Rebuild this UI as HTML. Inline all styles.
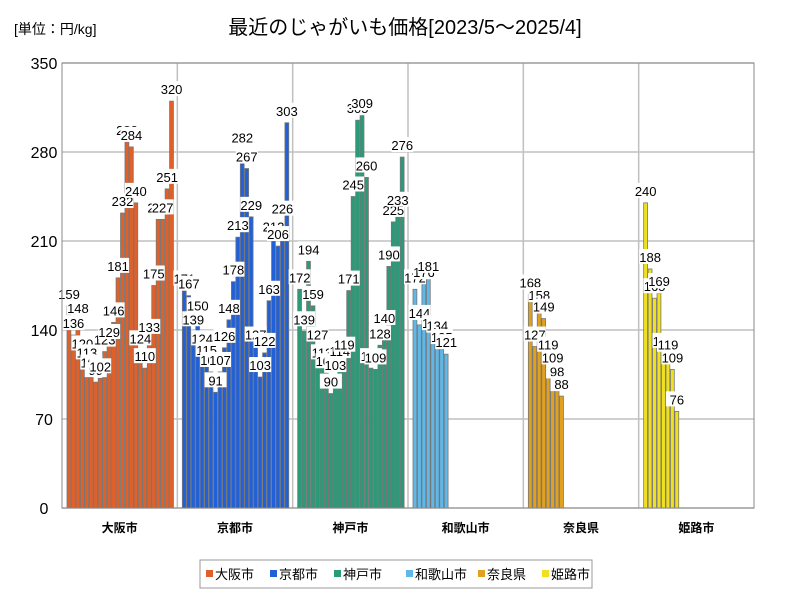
<!DOCTYPE html>
<html><head><meta charset="utf-8"><style>
body{margin:0;background:#fff;font-family:"Liberation Sans","Noto Sans CJK JP",sans-serif}
</style></head><body>
<svg width="800" height="600" xmlns="http://www.w3.org/2000/svg" style="font-family:'Liberation Sans','Noto Sans CJK JP',sans-serif">
<text x="14" y="34" font-size="14">[単位：円/kg]</text>
<text x="405" y="34" font-size="20" text-anchor="middle">最近のじゃがいも価格[2023/5～2025/4]</text>
<g id="grid"></g><g id="bars"></g><g id="labels"></g><g id="axes"></g>
<rect x="200" y="560" width="392" height="28" fill="#fff" stroke="#999"/>
<g id="legend"></g>
</svg>
<script>
const cities=["大阪市","京都市","神戸市","和歌山市","奈良県","姫路市"];
const colors=["#e0602a","#2060d8","#2a9a78","#60b8e8","#e0a020","#f0e020"];
const osaka=[159,136,148,120,113,105,99,102,123,129,146,181,232,288,284,240,124,110,133,175,227,227,251,320];
const kyoto=[171,167,139,150,124,115,107,91,107,126,148,178,213,282,267,229,127,103,122,163,212,206,226,303];
const kobe=[172,139,194,159,127,113,106,90,103,114,119,171,245,305,309,260,110,109,128,140,190,225,233,276];
const wakayama=[172,144,176,181,136,134,125,121];
const nara=[168,127,158,149,119,109,98,88];
const himeji=[240,188,165,169,122,119,109,76];
const series=[osaka,kyoto,kobe,wakayama,nara,himeji];
const yTicks=[0,70,140,210,280,350];
const NS="http://www.w3.org/2000/svg";
const X0=62,X1=754,Y0=508,Y1=63,YMAX=350;
const gw=(X1-X0)/cities.length;
const y=v=>Y0-(v/YMAX)*(Y0-Y1);
function mk(t,a,p){const e=document.createElementNS(NS,t);for(const k in a)e.setAttribute(k,a[k]);p.appendChild(e);return e;}
const grid=document.getElementById('grid'),bars=document.getElementById('bars'),labels=document.getElementById('labels'),axes=document.getElementById('axes'),legend=document.getElementById('legend');
yTicks.forEach(t=>{
 const l=mk('line',{x1:X0,x2:X1,y1:y(t),y2:y(t),stroke:'#c0c0c0','stroke-width':1.5},grid);
 
 
 const tx=mk('text',{x:X0-18,y:y(t)+6,'font-size':16,'text-anchor':'middle'},axes);
 tx.textContent=t;
 
 
});
for(let i=1;i<cities.length;i++){
 const l=mk('line',{x1:X0+gw*i,x2:X0+gw*i,y1:Y1,y2:Y0,stroke:'#c0c0c0','stroke-width':1.5},grid);
 
 
}
mk('rect',{x:X0,y:Y1,width:X1-X0,height:Y0-Y1,fill:'none',stroke:'#888'},axes);
const slot=4.46;
series.forEach((s,gi)=>{
 const gx=X0+gw*gi+5;
 s.forEach((v,i)=>{
  const r=mk('rect',{x:gx+i*slot,y:y(v),width:slot-0.6,height:Y0-y(v),fill:colors[gi],stroke:'#777','stroke-width':0.8},bars);
  
  
  const lx=gx+i*slot+2;
  const lb=mk('rect',{x:lx-11,y:y(v)-20,width:22,height:15,fill:'#fff'},labels);
  
  
  const t=mk('text',{x:lx,y:y(v)-7,'font-size':13,'text-anchor':'middle'},labels);
  t.textContent=v;
  
  
 });
 const c=mk('text',{x:X0+gw*gi+gw/2,y:Y0+24,'font-size':12,'font-weight':'bold','text-anchor':'middle'},axes);
 c.textContent=cities[gi];
 
 
 const lx=206+gi*64+(gi>=3?8:0)+(gi>=4?8:0);
 const sw=mk('rect',{x:lx,y:570,width:7,height:7,fill:colors[gi]},legend);
 
 
 const lt=mk('text',{x:lx+9,y:579,'font-size':13},legend);
 lt.textContent=cities[gi];
 
 
});
</script>
</body></html>
